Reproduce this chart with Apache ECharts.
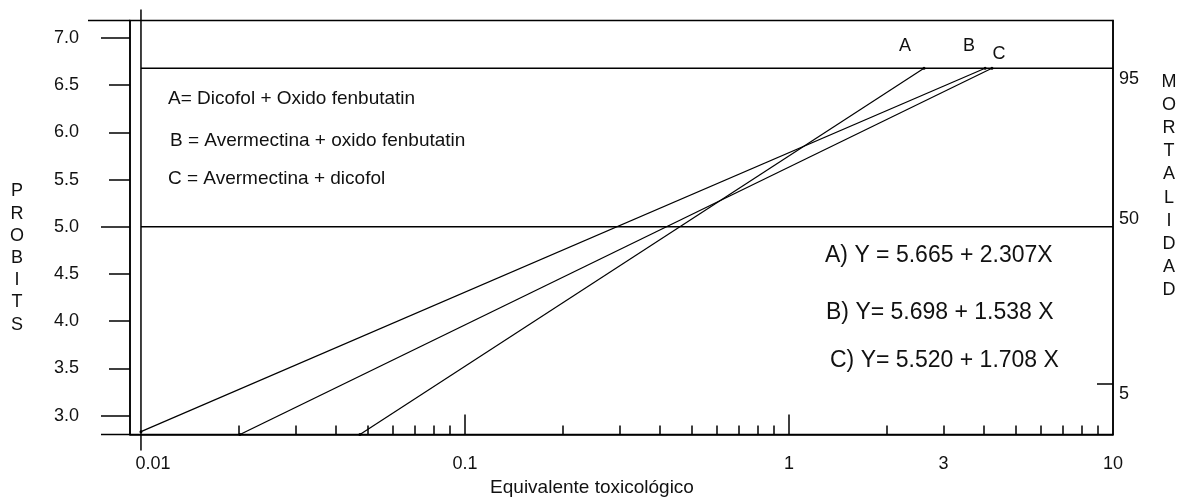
<!DOCTYPE html>
<html>
<head>
<meta charset="utf-8">
<script src="https://cdn.jsdelivr.net/npm/echarts@6/dist/echarts.min.js"></script>
<style>
html,body{margin:0;padding:0;background:#fff;}
#chart{width:1189px;height:501px;}
</style>
</head>
<body>
<div id="chart"></div>
<script>
// ---- data ----
const xLabelValues = [0.01, 0.1, 1, 3, 10];
const xMajorTicks = [0.1, 1];
const xMinorTicks = [0.02, 0.03, 0.04, 0.05, 0.06, 0.07, 0.08, 0.09,
                     0.2, 0.3, 0.4, 0.5, 0.6, 0.7, 0.8, 0.9,
                     2, 3, 4, 5, 6, 7, 8, 9];
const yTickValues = [3.0, 3.5, 4.0, 4.5, 5.0, 5.5, 6.0, 6.5, 7.0];
const yLongTicks = [3.0, 5.0, 7.0];
const mortalityProbits = [3.34, 5.0, 6.68];
const mortalityLabels = ['5', '50', '95'];
const refLineProbits = [5.0, 6.68];
const refLineX = [0.01, 10];

const lineAX = [0.0474, 2.61];
const lineAY = [2.80, 6.68];
const lineBX = [0.01, 4.03];
const lineBY = [2.83, 6.68];
const lineCX = [0.0202, 4.23];
const lineCY = [2.80, 6.68];

const legendLines = [
  'A= Dicofol + Oxido fenbutatin',
  'B = Avermectina + oxido fenbutatin',
  'C = Avermectina + dicofol'
];
const equations = [
  'A) Y = 5.665 + 2.307X',
  'B) Y= 5.698 + 1.538 X',
  'C) Y= 5.520 + 1.708 X'
];
const xAxisTitle = 'Equivalente toxicológico';
const leftTitle = 'PROBITS';
const rightTitle = 'MORTALIDAD';

// ---- layout ----
const xMin = 0.00925, xMax = 10;
const yMin = 2.8, yMax = 7.185;
const FONT = 'Liberation Sans, Arial, sans-serif';
const INK = '#111';

const chart = echarts.init(document.getElementById('chart'), null, {renderer: 'canvas'});

function pairs(xs, ys) { return xs.map((x, i) => [x, ys[i]]); }

function lineSeries(name, xs, ys, labelOffset) {
  const pts = pairs(xs, ys);
  const data = pts.map((p, i) => i === pts.length - 1
    ? {value: p, label: {show: true, formatter: name, position: 'inside', offset: labelOffset,
        color: INK, fontSize: 18, fontFamily: FONT}}
    : {value: p});
  return {
    type: 'line', name: name, data: data,
    xAxisIndex: 0, yAxisIndex: 0,
    symbol: 'circle', symbolSize: 3, showSymbol: true,
    itemStyle: {color: '#000'},
    lineStyle: {color: '#000', width: 1.2},
    silent: true, animation: false, z: 5
  };
}

const series = [
  lineSeries('A', lineAX, lineAY, [-19, -22]),
  lineSeries('B', lineBX, lineBY, [-16, -22]),
  lineSeries('C', lineCX, lineCY, [7, -14]),
];
refLineProbits.forEach(p => {
  series.push({
    type: 'line', data: refLineX.map(x => [x, p]), symbol: 'none',
    lineStyle: {color: '#000', width: 1.5}, silent: true, animation: false, z: 4
  });
});
// frame extensions (top/bottom line stubs, 0.01 reference line)
series.push({
  type: 'custom', coordinateSystem: 'cartesian2d', clip: false, silent: true, animation: false,
  data: [[refLineX[0], yMin]],
  renderItem: function (params, api) {
    const tl = api.coord([xMin, yMax]);
    const bl = api.coord([xMin, yMin]);
    const t01 = api.coord([refLineX[0], yMax]);
    const b01 = api.coord([refLineX[0], yMin]);
    const st = {stroke: '#000', lineWidth: 1.5};
    return {type: 'group', children: [
      {type: 'line', shape: {x1: tl[0] - 42, y1: tl[1], x2: tl[0], y2: tl[1]}, style: st},
      {type: 'line', shape: {x1: bl[0] - 29, y1: bl[1], x2: bl[0], y2: bl[1]}, style: st},
      {type: 'line', shape: {x1: t01[0], y1: t01[1] - 11, x2: b01[0], y2: b01[1] + 16}, style: st}
    ]};
  }
});

const baseX = {type: 'log', logBase: 10, min: xMin, max: xMax, gridIndex: 0, position: 'bottom',
  splitLine: {show: false}, minorTick: {show: false}, minorSplitLine: {show: false}};
const baseY = {type: 'value', min: yMin, max: yMax, gridIndex: 0, splitLine: {show: false}};

const option = {
  backgroundColor: '#fff',
  animation: false,
  grid: {left: 130, right: 76, top: 20.5, bottom: 66.5, show: true, borderColor: '#000', borderWidth: 1.5,
         backgroundColor: 'transparent', outerBoundsMode: 'none'},
  xAxis: [
    Object.assign({}, baseX, {
      axisLine: {show: true, lineStyle: {color: '#000', width: 1.5}},
      axisTick: {show: true, inside: true, length: 20, customValues: xMajorTicks, lineStyle: {color: '#000', width: 1.5}},
      axisLabel: {show: true, customValues: xLabelValues, margin: 21, color: INK, fontSize: 18, fontFamily: FONT,
        formatter: v => v === 0.01 ? '{r|0.01}' : String(v),
        rich: {r: {padding: [0, 0, 0, 24], fontSize: 18, fontFamily: FONT, color: INK}}}
    }),
    Object.assign({}, baseX, {
      axisLine: {show: false},
      axisTick: {show: true, inside: true, length: 9, customValues: xMinorTicks, lineStyle: {color: '#000', width: 1.5}},
      axisLabel: {show: false}
    })
  ],
  yAxis: [
    Object.assign({}, baseY, {
      position: 'left',
      axisLine: {show: true, lineStyle: {color: '#000', width: 1.5}},
      axisTick: {show: true, length: 21, customValues: yTickValues, lineStyle: {color: '#000', width: 1.5}},
      axisLabel: {show: true, customValues: yTickValues, margin: 51, color: INK, fontSize: 18, fontFamily: FONT,
        formatter: v => Number(v).toFixed(1), padding: [13, 0, 0, 0]}
    }),
    Object.assign({}, baseY, {
      position: 'left',
      axisLine: {show: false},
      axisTick: {show: true, length: 29, customValues: yLongTicks, lineStyle: {color: '#000', width: 1.5}},
      axisLabel: {show: false}
    }),
    Object.assign({}, baseY, {
      position: 'right',
      axisLine: {show: true, lineStyle: {color: '#000', width: 1.5}},
      axisTick: {show: true, inside: true, length: 16, customValues: [mortalityProbits[0]], lineStyle: {color: '#000', width: 1.5}},
      axisLabel: {show: true, customValues: mortalityProbits, margin: 6, color: INK, fontSize: 18, fontFamily: FONT,
        formatter: function (v) {
          const i = mortalityProbits.findIndex(p => Math.abs(p - v) < 1e-6);
          const t = i >= 0 ? mortalityLabels[i] : '';
          return t === '50' ? '{u|' + t + '}' : '{d|' + t + '}';
        },
        rich: {
          u: {padding: [0, 0, 16, 0], fontSize: 18, fontFamily: FONT, color: INK},
          d: {padding: [22, 0, 0, 0], fontSize: 18, fontFamily: FONT, color: INK}
        }}
    })
  ],
  graphic: [
    {type: 'text', left: 168, top: 89, style: {text: legendLines[0], fontSize: 19, fontFamily: FONT, fill: INK}},
    {type: 'text', left: 170, top: 131, style: {text: legendLines[1], fontSize: 19, fontFamily: FONT, fill: INK}},
    {type: 'text', left: 168, top: 169, style: {text: legendLines[2], fontSize: 19, fontFamily: FONT, fill: INK}},
    {type: 'text', left: 825, top: 244, style: {text: equations[0], fontSize: 23, fontFamily: FONT, fill: INK}},
    {type: 'text', left: 826, top: 301, style: {text: equations[1], fontSize: 23, fontFamily: FONT, fill: INK}},
    {type: 'text', left: 830, top: 349, style: {text: equations[2], fontSize: 23, fontFamily: FONT, fill: INK}},
    {type: 'text', x: 592, y: 488, style: {text: xAxisTitle, fontSize: 19, fontFamily: FONT, fill: INK, align: 'center', verticalAlign: 'middle'}},
    {type: 'text', x: 17, y: 258, style: {text: leftTitle.split('').join('\n'), fontSize: 18, lineHeight: 22.2, fontFamily: FONT, fill: INK, align: 'center', verticalAlign: 'middle'}},
    {type: 'text', x: 1169, y: 186, style: {text: rightTitle.split('').join('\n'), fontSize: 18, lineHeight: 23.1, fontFamily: FONT, fill: INK, align: 'center', verticalAlign: 'middle'}}
  ],
  series: series
};
chart.setOption(option);
</script>
</body>
</html>
